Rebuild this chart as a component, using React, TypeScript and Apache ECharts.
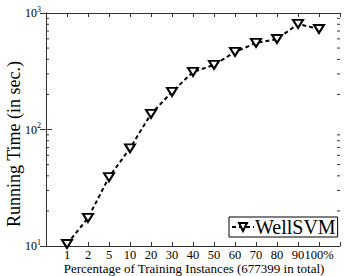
import React, { useEffect, useRef } from "react";
import * as echarts from "echarts";

const categories = ["1", "2", "5", "10", "20", "30", "40", "50", "60", "70", "80", "90", "100%"];
const wellsvmTimes = [10.4, 17.4, 39, 69, 136, 210, 312, 358, 463, 553, 598, 805, 729];
const minorTickValues = [20, 30, 40, 50, 60, 70, 80, 90, 200, 300, 400, 500, 600, 700, 800, 900];
const yTickExponents: Record<number, string> = { 10: "1", 100: "2", 1000: "3" };
const yTitle = "Running Time (in sec.)";
const xTitle = "Percentage of Training Instances (677399 in total)";

const FONT = "'Liberation Serif', 'Times New Roman', Times, serif";

export default function App() {
  const ref = useRef<HTMLDivElement>(null);
  useEffect(() => {
    if (!ref.current) return;
    const chart = echarts.init(ref.current, undefined, { renderer: "svg" });
    const axisColor = "#333";
    chart.setOption({
      animation: false,
      backgroundColor: "#fff",
      grid: { left: 46, right: 6, top: 13, bottom: 30, containLabel: false, outerBoundsMode: "none" },
      graphic: [
        {
          type: "text",
          x: 14,
          y: 144,
          rotation: Math.PI / 2,
          style: {
            text: yTitle,
            fontFamily: FONT,
            fontSize: 18,
            fill: "#000",
            align: "center",
            verticalAlign: "middle",
          },
        },
        {
          type: "text",
          x: 194,
          y: 262,
          style: {
            text: xTitle,
            fontFamily: FONT,
            fontSize: 13,
            lineHeight: 13,
            fill: "#000",
            align: "center",
            verticalAlign: "top",
          },
        },
      ],
      legend: {
        data: ["WellSVM"],
        left: 229,
        top: 217,
        orient: "vertical",
        backgroundColor: "#fff",
        borderColor: "#000",
        borderWidth: 1,
        borderRadius: 0,
        padding: [0, 2, 0, 2],
        itemWidth: 22,
        itemHeight: 10,
        itemGap: 0,
        textStyle: { fontFamily: FONT, fontSize: 20, color: "#000", padding: [0, 0, 0, -4] },
      },
      xAxis: [
        {
          type: "value",
          min: 0,
          max: 14,
          interval: 1,
          axisLine: { show: true, lineStyle: { color: axisColor, width: 1 } },
          axisTick: { show: true, inside: true, length: 4, lineStyle: { color: axisColor } },
          axisLabel: {
            fontFamily: FONT,
            fontSize: 12.5,
            lineHeight: 12,
            color: "#000",
            margin: 3,
            formatter: (v: number) => (v >= 1 && v <= categories.length ? categories[v - 1] : ""),
          },
          splitLine: { show: false },
        },
        {
          type: "value",
          position: "top",
          min: 0,
          max: 14,
          interval: 1,
          axisLine: { show: true, lineStyle: { color: axisColor, width: 1 } },
          axisTick: { show: true, inside: true, length: 4, lineStyle: { color: axisColor } },
          axisLabel: { show: false },
          splitLine: { show: false },
        },
      ],
      yAxis: [
        {
          type: "log",
          logBase: 10,
          min: 10,
          max: 1000,
          axisLine: { show: true, lineStyle: { color: axisColor, width: 1 } },
          axisTick: { show: true, inside: true, length: 6, lineStyle: { color: axisColor } },
          axisLabel: {
            margin: 5,
            formatter: (v: number) => `{b|10}{s|${yTickExponents[Math.round(v)] ?? ""}}`,
            rich: {
              b: { fontFamily: FONT, fontSize: 12, color: "#000" },
              s: { fontFamily: FONT, fontSize: 8, color: "#000", padding: [0, 0, 8, 0] },
            },
          },
          splitLine: { show: false },
        },
        {
          type: "log",
          logBase: 10,
          min: 10,
          max: 1000,
          position: "right",
          axisLine: { show: true, lineStyle: { color: axisColor, width: 1 } },
          axisTick: { show: true, inside: true, length: 6, lineStyle: { color: axisColor } },
          axisLabel: { show: false },
          splitLine: { show: false },
        },
      ],
      series: [
        {
          name: "minorTicks",
          type: "custom",
          silent: true,
          xAxisIndex: 0,
          yAxisIndex: 0,
          data: minorTickValues.map((v) => [0, v]),
          renderItem: (params: any, api: any) => {
            const v = api.value(1);
            const l = api.coord([0, v]);
            const r = api.coord([14, v]);
            const style = { stroke: axisColor, lineWidth: 1 };
            return {
              type: "group",
              children: [
                { type: "line", shape: { x1: l[0], y1: l[1], x2: l[0] + 3, y2: l[1] }, style },
                { type: "line", shape: { x1: r[0], y1: r[1], x2: r[0] - 3, y2: r[1] }, style },
              ],
            };
          },
        },
        {
          name: "WellSVM",
          type: "line",
          xAxisIndex: 0,
          yAxisIndex: 0,
          data: wellsvmTimes.map((v, i) => [i + 1, v]),
          symbol: "triangle",
          symbolRotate: 180,
          symbolSize: [10, 8],
          lineStyle: { color: "#000", width: 2, type: [4, 3] },
          itemStyle: { color: "#fff", borderColor: "#000", borderWidth: 2 },
        },
      ],
    });
    return () => chart.dispose();
  }, []);
  return <div ref={ref} style={{ width: 346, height: 276, position: "absolute", left: 0, top: 0 }} />;
}
